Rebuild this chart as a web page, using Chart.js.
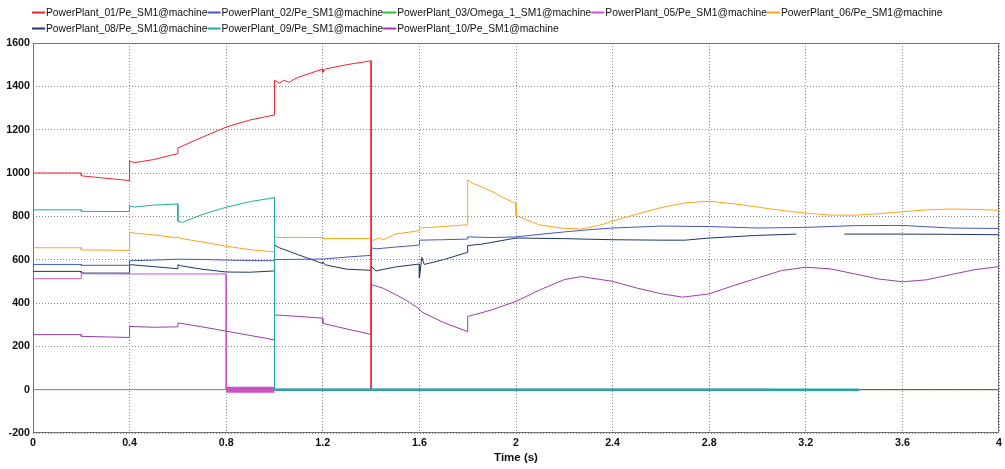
<!DOCTYPE html>
<html>
<head>
<meta charset="utf-8">
<script src="https://cdn.jsdelivr.net/npm/chart.js@4.4.1/dist/chart.umd.min.js"></script>
<style>
  html, body { margin: 0; padding: 0; background: #fff; }
  #wrap { width: 1005px; height: 469px; position: relative; }
</style>
</head>
<body>
<div id="wrap"><canvas id="chart"></canvas></div>
<script>
// time axis (s) and power axis ranges
const timeRange = [0, 4]
const timeStep = 0.4
const powerRange = [-200, 1600]
const powerStep = 200
const timeTitle = 'Time (s)'

const seriesNames = [
  'PowerPlant_01/Pe_SM1@machine',
  'PowerPlant_02/Pe_SM1@machine',
  'PowerPlant_03/Omega_1_SM1@machine',
  'PowerPlant_05/Pe_SM1@machine',
  'PowerPlant_06/Pe_SM1@machine',
  'PowerPlant_08/Pe_SM1@machine',
  'PowerPlant_09/Pe_SM1@machine',
  'PowerPlant_10/Pe_SM1@machine',
]
const seriesColors = ['#f5222a', '#4258c0', '#2fc23c', '#cc52c4', '#ffa21c', '#1f3569', '#22aaa2', '#9c3aae']

// [time, value] samples
const pp01 = [[0, 1000], [0.2, 1000], [0.2, 987], [0.4, 965], [0.4, 1055], [0.42, 1048], [0.5, 1062], [0.6, 1090],
  [0.6, 1115], [0.7, 1165], [0.8, 1212], [0.9, 1245], [1.0, 1268], [1.0, 1428], [1.02, 1415], [1.04, 1428],
  [1.06, 1418], [1.08, 1432], [1.1, 1442], [1.2, 1480], [1.2, 1465], [1.21, 1480], [1.3, 1500], [1.4, 1518],
  [1.4, 0], [4, 0]]
const pp02 = [[0, 578], [0.2, 578], [0.2, 574], [0.4, 574], [0.4, 595], [0.5, 598], [0.6, 602], [0.7, 601],
  [0.8, 598], [0.9, 596], [1.0, 595], [1.0, 600], [1.2, 603], [1.3, 612], [1.4, 620], [1.4, 655], [1.42, 650],
  [1.5, 658], [1.6, 667], [1.6, 690], [1.7, 692], [1.8, 695], [1.8, 705], [1.9, 702], [2.0, 705], [2.1, 717],
  [2.2, 728], [2.3, 738], [2.4, 746], [2.6, 755], [2.8, 753], [3.0, 746], [3.2, 749], [3.4, 757], [3.6, 758],
  [3.8, 746], [4.0, 744]]
const pp03 = [[0, 0], [4, 0]]
const pp05 = [[0, 512], [0.2, 512], [0.2, 542], [0.22, 535], [0.4, 534], [0.6, 534], [0.8, 534], [0.8, 0],
  [1.0, 0], [3.05, 0]]
const pp06 = [[0, 655], [0.2, 655], [0.2, 645], [0.4, 643], [0.4, 728], [0.42, 722], [0.5, 715], [0.6, 700],
  [0.6, 706], [0.61, 698], [0.7, 682], [0.8, 662], [0.9, 646], [1.0, 636], [1.0, 710], [1.01, 702], [1.1, 703],
  [1.2, 702], [1.2, 698], [1.4, 697], [1.41, 688], [1.43, 700], [1.45, 692], [1.5, 718], [1.6, 734], [1.6, 746],
  [1.7, 753], [1.8, 761], [1.8, 968], [1.82, 952], [1.85, 940], [1.9, 915], [1.95, 885], [2.0, 858], [2.0, 805],
  [2.05, 780], [2.1, 760], [2.2, 744], [2.27, 742], [2.35, 760], [2.4, 778], [2.5, 810], [2.6, 840], [2.7, 862],
  [2.8, 870], [2.9, 858], [3.0, 843], [3.1, 827], [3.2, 815], [3.3, 806], [3.4, 805], [3.5, 812], [3.6, 821],
  [3.7, 830], [3.8, 834], [3.9, 832], [4.0, 828]]
const pp08 = [[0, 546], [0.2, 546], [0.2, 538], [0.4, 538], [0.4, 577], [0.5, 568], [0.6, 558], [0.6, 577],
  [0.61, 572], [0.7, 556], [0.8, 543], [0.9, 542], [1.0, 548], [1.0, 668], [1.02, 655], [1.1, 622], [1.2, 582],
  [1.2, 590], [1.21, 576], [1.3, 556], [1.4, 551], [1.4, 570], [1.42, 548], [1.45, 555], [1.5, 566], [1.6, 580],
  [1.6, 515], [1.61, 610], [1.62, 578], [1.7, 600], [1.8, 634], [1.8, 665], [1.86, 672], [2.0, 700], [2.2, 697],
  [2.4, 692], [2.6, 690], [2.7, 690], [2.8, 700], [3.0, 712], [3.16, 718], [3.25, null], [3.36, 718], [3.6, 718],
  [3.8, 717], [4.0, 715]]
const pp09 = [[0, 830], [0.2, 830], [0.2, 823], [0.4, 822], [0.4, 848], [0.42, 843], [0.5, 852], [0.6, 857],
  [0.6, 777], [0.62, 772], [0.7, 808], [0.8, 842], [0.9, 868], [1.0, 886], [1.0, 0], [3.42, 0]]
const pp10 = [[0, 254], [0.2, 254], [0.2, 246], [0.4, 241], [0.4, 292], [0.5, 288], [0.6, 290], [0.6, 308],
  [0.7, 290], [0.8, 270], [0.9, 250], [1.0, 230], [1.0, 345], [1.1, 338], [1.2, 330], [1.2, 306], [1.3, 280],
  [1.4, 255], [1.4, 485], [1.45, 468], [1.5, 440], [1.55, 410], [1.6, 372], [1.61, 358], [1.7, 310], [1.8, 268],
  [1.8, 338], [1.9, 368], [2.0, 408], [2.1, 461], [2.2, 508], [2.27, 522], [2.4, 500], [2.5, 469], [2.6, 443],
  [2.69, 427], [2.8, 442], [2.9, 480], [3.0, 515], [3.1, 550], [3.2, 565], [3.3, 558], [3.4, 535], [3.5, 511],
  [3.6, 498], [3.7, 507], [3.8, 531], [3.9, 554], [4.0, 568]]

const seriesData = [pp01, pp02, pp03, pp05, pp06, pp08, pp09, pp10]
// lower order is drawn on top
const seriesOrder = [2, 3, 5, 1, 3, 3, 0, 3]
// the noisy zero level after a trip is drawn as a wider band: [width before 1 s, width after]
const noiseWidth = [null, null, null, [6, 2], null, null, [2.5, 2.5], null]

const fontFamily = '"Liberation Sans", Arial, sans-serif'

const lineLegend = {
  id: 'lineLegend',
  afterDraw(chart) {
    const ctx = chart.ctx
    ctx.save()
    ctx.font = '10.3px ' + fontFamily
    ctx.textBaseline = 'middle'
    let x = 32
    let y = 12.5
    chart.data.datasets.forEach(ds => {
      const w = 14 + ctx.measureText(ds.label).width
      if (x + w > chart.width - 4) {
        x = 32
        y += 16
      }
      ctx.strokeStyle = ds.borderColor
      ctx.lineWidth = 2
      ctx.beginPath()
      ctx.moveTo(x, y)
      ctx.lineTo(x + 13, y)
      ctx.stroke()
      ctx.fillStyle = '#111'
      ctx.fillText(ds.label, x + 14, y + 0.5)
      x += w
    })
    ctx.restore()
  }
}

const plotFrame = {
  id: 'plotFrame',
  beforeDatasetsDraw(chart) {
    const {ctx, chartArea: a} = chart
    ctx.save()
    ctx.strokeStyle = '#707070'
    ctx.lineWidth = 1
    ctx.strokeRect(Math.round(a.left) + 0.5, Math.round(a.top) + 0.5,
      Math.round(a.right - a.left) - 1, Math.round(a.bottom - a.top) - 1)
    ctx.restore()
  }
}

const bandWidth = i => c => {
  const w = noiseWidth[i]
  if (!w || c.p0.parsed.y !== 0 || c.p1.parsed.y !== 0) return undefined
  return c.p0.parsed.x < 1 ? w[0] : w[1]
}

const datasets = seriesNames.map((name, i) => ({
  label: name,
  data: seriesData[i].map(([t, v]) => ({x: t, y: v})),
  borderColor: seriesColors[i],
  backgroundColor: seriesColors[i],
  borderWidth: 1,
  pointRadius: 0,
  order: seriesOrder[i],
  spanGaps: false,
  segment: {borderWidth: bandWidth(i)}
}))

const tickFont = {family: fontFamily, size: 10.7, weight: 'bold'}

new Chart(document.getElementById('chart'), {
  type: 'line',
  data: {datasets},
  options: {
    responsive: true,
    maintainAspectRatio: false,
    animation: false,
    layout: {padding: {top: 43, left: 0, right: 6, bottom: 0}},
    plugins: {legend: {display: false}, tooltip: {enabled: false}},
    scales: {
      x: {
        type: 'linear',
        min: timeRange[0],
        max: timeRange[1],
        ticks: {
          stepSize: timeStep, color: '#111', font: tickFont, padding: 4, maxRotation: 0,
          callback: v => String(Number(v.toFixed(1)))
        },
        grid: {color: '#8a8a8a', lineWidth: 1, drawTicks: false, borderDash: [1, 2]},
        border: {display: false, dash: [1, 2]},
        title: {display: true, text: timeTitle, color: '#111', font: {family: fontFamily, size: 11.5, weight: 'bold'}, padding: {top: 0, bottom: 4}},
        afterFit: s => {
          s.height = 36
          s.paddingLeft = 0
          s.paddingRight = 6
        }
      },
      y: {
        min: powerRange[0],
        max: powerRange[1],
        ticks: {stepSize: powerStep, color: '#111', font: tickFont, padding: 3, callback: v => String(v)},
        grid: {color: '#8a8a8a', lineWidth: 1, drawTicks: false, borderDash: [1, 2]},
        border: {display: false, dash: [1, 2]},
        afterFit: s => { s.width = 33 }
      }
    }
  },
  plugins: [plotFrame, lineLegend]
})
</script>
</body>
</html>
